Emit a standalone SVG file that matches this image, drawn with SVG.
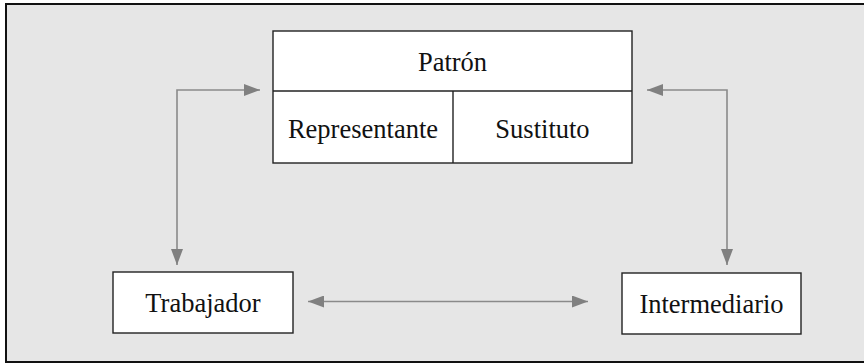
<svg xmlns="http://www.w3.org/2000/svg" width="864" height="363" viewBox="0 0 864 363">
<style>
.box{fill:#ffffff;stroke:#222;stroke-width:1.4}
.lbl{font-family:"Liberation Serif","Times New Roman",serif;font-size:26.5px;fill:#111;text-anchor:middle}
.conn{fill:none;stroke:#8a8a8a;stroke-width:1.6}
</style>
<defs>
<marker id="ah" viewBox="0 0 16 12" refX="16" refY="6" markerWidth="16" markerHeight="12" markerUnits="userSpaceOnUse" orient="auto-start-reverse">
<path d="M0,0 L16,6 L0,12 Z" fill="#808080"/>
</marker>
</defs>
<rect x="6" y="4" width="870" height="358" fill="#e6e6e6" stroke="#111" stroke-width="2"/>
<g id="patron">
<rect class="box" x="273" y="31" width="359" height="132"/>
<line x1="273" y1="91" x2="632" y2="91" stroke="#222" stroke-width="1.4"/>
<line x1="453" y1="91" x2="453" y2="163" stroke="#222" stroke-width="1.4"/>
<text class="lbl" x="452.5" y="71">Patrón</text>
<text class="lbl" x="363" y="138">Representante</text>
<text class="lbl" x="542.5" y="138">Sustituto</text>
</g>
<g id="trabajador">
<rect class="box" x="113" y="272" width="180" height="61"/>
<text class="lbl" x="203" y="312">Trabajador</text>
</g>
<g id="intermediario">
<rect class="box" x="622" y="273" width="179" height="61"/>
<text class="lbl" x="711.5" y="312.5">Intermediario</text>
</g>
<g id="connectors">
<path class="conn" d="M260,90 H177 V265" marker-start="url(#ah)" marker-end="url(#ah)"/>
<path class="conn" d="M647,90 H727 V265" marker-start="url(#ah)" marker-end="url(#ah)"/>
<path class="conn" d="M308,301.5 H588" marker-start="url(#ah)" marker-end="url(#ah)"/>
</g>
</svg>
